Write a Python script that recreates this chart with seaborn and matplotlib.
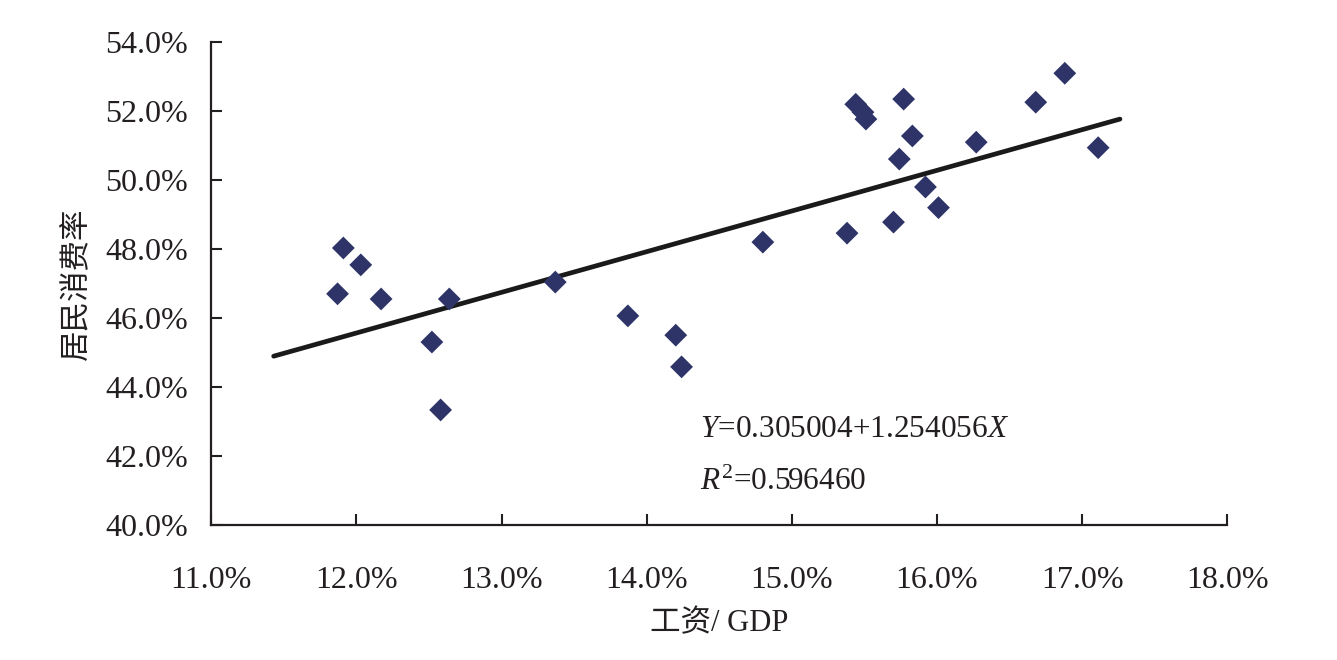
import numpy as np
import matplotlib
matplotlib.use("Agg")
import matplotlib.pyplot as plt
import seaborn as sns

# 工资/GDP (%) 与 居民消费率 (%)
wage_gdp = [11.87, 11.91, 12.03, 12.17, 12.52, 12.58, 12.64, 13.37, 13.87, 14.20,
            14.24, 14.80, 15.38, 15.44, 15.49, 15.51, 15.70, 15.74, 15.77, 15.83,
            15.92, 16.01, 16.27, 16.68, 16.88, 17.11]
consume = [46.70, 48.03, 47.54, 46.55, 45.30, 43.33, 46.55, 47.04, 46.06, 45.50,
           44.58, 48.20, 48.46, 52.20, 51.97, 51.77, 48.78, 50.61, 52.35, 51.28,
           49.80, 49.20, 51.10, 52.26, 53.10, 50.94]

# trend line as drawn in the figure
trend_x = [11.43, 17.26]
trend_y = [44.89, 51.77]

eq_text = r"$Y$=0.305004+1.254056$X$"
r2_text = r"$R^2$=0.596460"

xticks = [11, 12, 13, 14, 15, 16, 17, 18]
yticks = [40, 42, 44, 46, 48, 50, 52, 54]

sns.set_style("ticks")
plt.rcParams["font.family"] = ["Liberation Serif", "Noto Sans CJK SC"]
plt.rcParams["mathtext.fontset"] = "custom"
plt.rcParams["mathtext.rm"] = "Liberation Serif"
plt.rcParams["mathtext.it"] = "Liberation Serif:italic"

fig = plt.figure(figsize=(13.37, 6.6), dpi=100)
ax = fig.add_axes([0.158, 0.205, 0.76, 0.731])

sns.scatterplot(x=wage_gdp, y=consume, marker="D", s=135, color="#2e3468",
                edgecolor="none", ax=ax, zorder=3)
sns.lineplot(x=trend_x, y=trend_y, color="#1a1a1a", linewidth=3.4, ax=ax, zorder=2)

ax.set_xlim(11, 18)
ax.set_ylim(40, 54)
ax.set_xticks(xticks)
ax.set_yticks(yticks)
ax.set_xticklabels([f"{v:.1f}%" for v in xticks])
ax.set_yticklabels([f"{v:.1f}%" for v in yticks])
ax.tick_params(axis="both", direction="in", length=8, width=1.5,
               colors="#231f20", labelsize=23)
ax.tick_params(axis="y", pad=17)
ax.tick_params(axis="x", pad=30)

for side in ["top", "right"]:
    ax.spines[side].set_visible(False)
for side in ["left", "bottom"]:
    ax.spines[side].set_linewidth(1.6)
    ax.spines[side].set_color("#231f20")

ax.set_xlabel("工资/ GDP", fontsize=22, labelpad=10, color="#231f20")
ax.set_ylabel("居民消费率", fontsize=22, labelpad=9, color="#231f20")

ax.text(14.37, 42.76, eq_text, fontsize=22.5, va="center", ha="left",
        color="#231f20")
ax.text(14.37, 41.24, r2_text, fontsize=22.5, va="center", ha="left",
        color="#231f20")

fig.savefig("out.png", dpi=100)
